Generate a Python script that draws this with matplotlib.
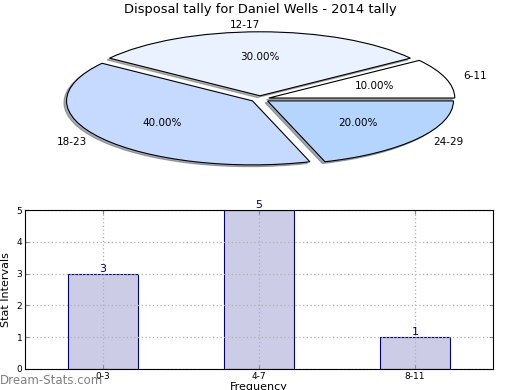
import matplotlib
matplotlib.use("Agg")
import matplotlib.pyplot as plt

# pie data
pie_labels = ["6-11", "12-17", "18-23", "24-29"]
pie_values = [1, 3, 4, 2]
pie_colors = ["#ffffff", "#ebf2ff", "#c6d9ff", "#b5d5ff"]

# bar data
bar_labels = ["0-3", "4-7", "8-11"]
bar_values = [3, 5, 1]

fig = plt.figure(figsize=(5.2, 3.9), dpi=100)

# top: squashed pie
ax1 = fig.add_axes([9 / 520, 1 - 185.4 / 390, 502 / 520, 172.8 / 390])
wedges, texts, autotexts = ax1.pie(
    pie_values, labels=pie_labels, colors=pie_colors,
    explode=[0.05, 0.05, 0.05, 0.05], autopct="%.2f%%",
    shadow={"ox": -0.01, "oy": -0.02, "shade": 0.6}, startangle=0,
    wedgeprops=dict(edgecolor="black", linewidth=0.8),
    textprops=dict(fontsize=7.5))
ax1.set_aspect("auto")
ax1.set_xlim(-1.35, 1.35)
ax1.set_ylim(-1.35, 1.35)
fig.text(0.5, 1 - 10 / 390, "Disposal tally for Daniel Wells - 2014 tally",
         ha="center", va="center", fontsize=9.4)

# bottom: bars
ax2 = fig.add_axes([25 / 520, 1 - 369 / 390, 468 / 520, 159 / 390])
x = range(len(bar_values))
bars = ax2.bar(x, bar_values, width=0.45, color="#ccccE6",
               edgecolor="#000080", linewidth=0.8, zorder=1)
for xi, v in zip(x, bar_values):
    ax2.text(xi, v, str(v), ha="center", va="bottom", fontsize=8,
             color="#000080")
ax2.set_xlim(-0.5, 2.5)
ax2.set_ylim(0, 5)
ax2.set_xticks(list(x))
ax2.set_xticklabels(bar_labels)
ax2.set_yticks([0, 1, 2, 3, 4, 5])
ax2.grid(True, linestyle=(0, (1, 2)), color="#b0b0b0", linewidth=0.9,
         zorder=2)
ax2.set_axisbelow(False)
for sp in ax2.spines.values():
    sp.set_zorder(4)
ax2.tick_params(direction="in", length=3, labelsize=6.5, top=True,
                right=True, color="#888888", pad=2)
ax2.set_ylabel("Stat Intervals", fontsize=8, labelpad=4)
ax2.set_xlabel("Frequency", fontsize=8, labelpad=1)

fig.text(0.0, 1 - 381 / 390, "Dream-Stats.com", ha="left", va="center",
         fontsize=8.5, color="#808080")

fig.savefig("out.png", dpi=100)
